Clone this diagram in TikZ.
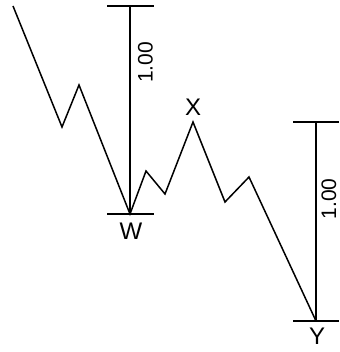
\documentclass[tikz,border=0pt]{standalone}
\usepackage{fontspec}
\setmainfont{Liberation Sans}
\begin{document}
\begin{tikzpicture}[x=1pt,y=-1pt,
  wave/.style={line width=1.5pt,line join=miter},
  meas/.style={line width=1.5pt},
  lbl/.style={inner sep=0pt,font=\fontsize{24}{24}\selectfont},
  num/.style={inner sep=0pt,font=\fontsize{21}{21}\selectfont,rotate=90}]
\useasboundingbox (0,0) rectangle (339,352);
\coordinate (p0) at (13,6);
\coordinate (p1) at (62,127);
\coordinate (p2) at (79,85);
\coordinate (w) at (130,214);
\coordinate (q1) at (146,171);
\coordinate (q2) at (165,194);
\coordinate (x) at (193,122);
\coordinate (r1) at (225,202);
\coordinate (r2) at (249,177);
\coordinate (y) at (316,321);
% left measure
\coordinate (lt) at (130,6);
\coordinate (ltl) at (107,6);
\coordinate (ltr) at (154,6);
\coordinate (lbl) at (107,214);
\coordinate (lbr) at (154,214);
% right measure
\coordinate (rt) at (316,122);
\coordinate (rtl) at (293,122);
\coordinate (rtr) at (339,122);
\coordinate (rbl) at (293,321);
\coordinate (rbr) at (339,321);
\draw[wave] (p0) -- (p1) -- (p2) -- (w) -- (q1) -- (q2) -- (x) -- (r1) -- (r2) -- (y);
\draw[meas] (lt) -- (w);
\draw[meas] (ltl) -- (ltr);
\draw[meas] (lbl) -- (lbr);
\draw[meas] (rt) -- (y);
\draw[meas] (rtl) -- (rtr);
\draw[meas] (rbl) -- (rbr);
\node[num] (n1) at (145.5,62.5) {1.00};
\node[num] (n2) at (329,199) {1.00};
\node[lbl] (lw) at (131,231) {W};
\node[lbl] (lx) at (193,107) {X};
\node[lbl] (ly) at (317,336) {Y};
\end{tikzpicture}
\end{document}
